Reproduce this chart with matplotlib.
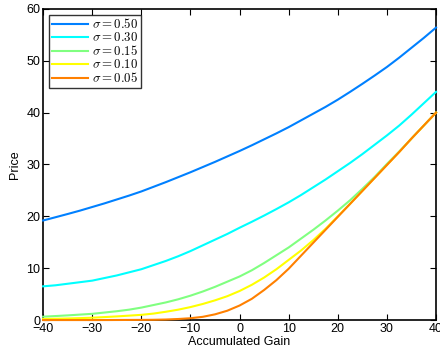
import matplotlib
matplotlib.use("Agg")
import matplotlib.pyplot as plt

plt.rcParams["font.family"] = ["Liberation Sans", "DejaVu Sans"]
plt.rcParams["mathtext.fontset"] = "cm"

gain = [-40, -37.5, -35, -32.5, -30, -27.5, -25, -22.5, -20, -17.5, -15, -12.5,
        -10, -7.5, -5, -2.5, 0, 2.5, 5, 7.5, 10, 12.5, 15, 17.5, 20, 22.5,
        25, 27.5, 30, 32.5, 35, 37.5, 40]

price_050 = [19.2, 19.82, 20.45, 21.1, 21.8, 22.5, 23.25, 24.0, 24.8, 25.7, 26.6, 27.55,
             28.5, 29.5, 30.5, 31.55, 32.6, 33.7, 34.85, 36.0, 37.2, 38.5, 39.8, 41.1,
             42.5, 44.0, 45.55, 47.15, 48.8, 50.6, 52.5, 54.4, 56.4]
price_030 = [6.5, 6.7, 7.0, 7.3, 7.6, 8.1, 8.6, 9.2, 9.8, 10.6, 11.4, 12.3,
             13.3, 14.4, 15.5, 16.6, 17.8, 18.95, 20.15, 21.4, 22.7, 24.1, 25.6, 27.1,
             28.7, 30.3, 32.0, 33.8, 35.6, 37.5, 39.6, 41.8, 44.0]
price_015 = [0.65, 0.77, 0.9, 1.05, 1.2, 1.45, 1.7, 2.0, 2.4, 2.9, 3.4, 4.0,
             4.7, 5.5, 6.4, 7.4, 8.4, 9.6, 11.0, 12.5, 14.0, 15.7, 17.4, 19.2,
             21.1, 23.1, 25.3, 27.6, 30.1, 32.5, 35.0, 37.5, 40.0]
price_010 = [0.2, 0.25, 0.3, 0.37, 0.45, 0.57, 0.7, 0.85, 1.0, 1.25, 1.6, 2.0,
             2.5, 3.1, 3.8, 4.6, 5.6, 6.8, 8.2, 9.8, 11.6, 13.4, 15.4, 17.6,
             20.0, 22.4, 24.9, 27.4, 29.9, 32.4, 35.0, 37.5, 40.0]
price_005 = [0.0, 0.0, 0.0, 0.0, 0.0, 0.0, 0.01, 0.02, 0.03, 0.05, 0.1, 0.2,
             0.35, 0.62, 1.1, 1.8, 2.8, 4.1, 5.8, 7.7, 9.9, 12.4, 14.9, 17.4,
             19.9, 22.4, 24.9, 27.4, 29.9, 32.4, 35.0, 37.5, 40.0]

labels = [r"$\sigma = 0.50$", r"$\sigma = 0.30$", r"$\sigma = 0.15$",
          r"$\sigma = 0.10$", r"$\sigma = 0.05$"]
colors = ["#0080ff", "#00ffff", "#80ff80", "#ffff00", "#ff8000"]

fig = plt.figure(figsize=(4.4, 3.56), dpi=100)
ax = fig.add_axes([0.098, 0.101, 0.893, 0.874])

series = [price_050, price_030, price_015, price_010, price_005]
for ys, lab, c in zip(series, labels, colors):
    ax.plot(gain, ys, color=c, lw=1.5, label=lab, clip_on=False, zorder=3)

ax.set_xlim(-40, 40)
ax.set_ylim(0, 60)
ax.set_xticks(range(-40, 41, 10))
ax.set_yticks(range(0, 61, 10))
ax.set_xticklabels(["\u221240", "\u221230", "\u221220", "\u221210", "0", "10", "20", "30", "40"])
ax.tick_params(direction="in", length=4, width=0.8, top=True, right=True,
               labelsize=9, pad=2)
for s in ax.spines.values():
    s.set_linewidth(1.2)

ax.set_xlabel("Accumulated Gain", fontsize=9, labelpad=1)
ax.set_ylabel("Price", fontsize=9, labelpad=4)

leg = ax.legend(loc="upper left", fontsize=9.3, frameon=True, fancybox=False,
                borderaxespad=0.45, handlelength=2.8, handletextpad=0.35,
                labelspacing=0.0, borderpad=0.2)
leg.get_frame().set_edgecolor("black")
leg.get_frame().set_linewidth(1.0)

fig.savefig("out.png", dpi=100)
